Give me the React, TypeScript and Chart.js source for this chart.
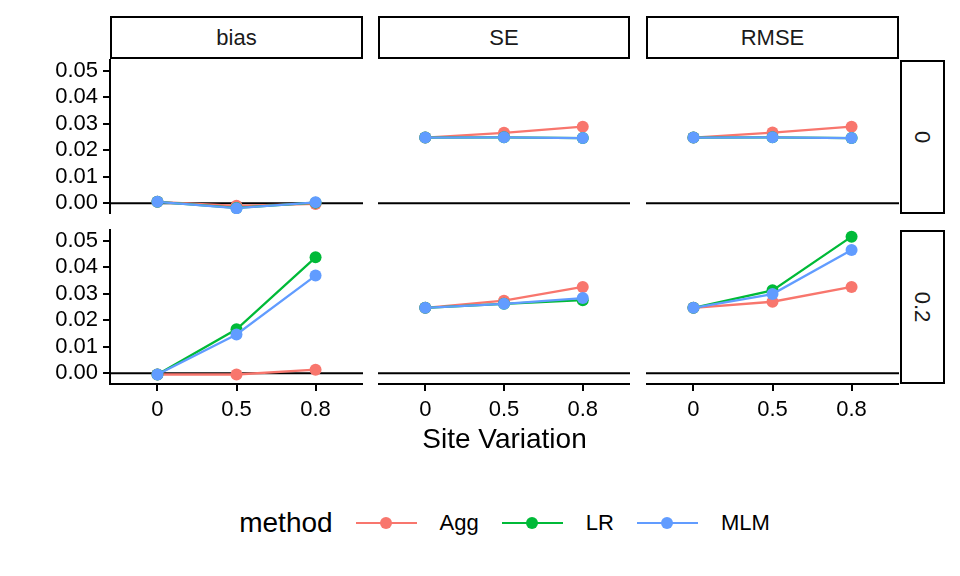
import { useEffect, useRef } from 'react'
import Chart from 'chart.js/auto'

// facet labels
const measures = ['bias', 'SE', 'RMSE']
const correlations = ['0', '0.2']
const siteVariation = ['0', '0.5', '0.8']
const methods = ['Agg', 'LR', 'MLM']
const methodColors = ['#F8766D', '#00BA38', '#619CFF']
const yTicks = [0, 0.01, 0.02, 0.03, 0.04, 0.05]

// correlation = 0
const biasAgg0 = [0.0005, -0.001, -0.0003]
const biasLR0 = [0.0005, -0.0018, 0.0002]
const biasMLM0 = [0.0005, -0.0019, 0.0003]
const seAgg0 = [0.0248, 0.0266, 0.0289]
const seLR0 = [0.0248, 0.0249, 0.0246]
const seMLM0 = [0.0248, 0.0249, 0.0246]
const rmseAgg0 = [0.0248, 0.0267, 0.0289]
const rmseLR0 = [0.0248, 0.0249, 0.0246]
const rmseMLM0 = [0.0248, 0.0249, 0.0246]

// correlation = 0.2
const biasAgg2 = [-0.0005, -0.0005, 0.0013]
const biasLR2 = [-0.0005, 0.0166, 0.0438]
const biasMLM2 = [-0.0005, 0.0146, 0.0369]
const seAgg2 = [0.0247, 0.0274, 0.0326]
const seLR2 = [0.0247, 0.0262, 0.0276]
const seMLM2 = [0.0247, 0.0262, 0.0284]
const rmseAgg2 = [0.0247, 0.027, 0.0326]
const rmseLR2 = [0.0247, 0.0313, 0.0516]
const rmseMLM2 = [0.0247, 0.0299, 0.0466]

const grid = [
  [
    [biasAgg0, biasLR0, biasMLM0],
    [seAgg0, seLR0, seMLM0],
    [rmseAgg0, rmseLR0, rmseMLM0],
  ],
  [
    [biasAgg2, biasLR2, biasMLM2],
    [seAgg2, seLR2, seMLM2],
    [rmseAgg2, rmseLR2, rmseMLM2],
  ],
]

const colLeft = [110, 378, 646]
const colRight = [363, 630, 899]
const rowTop = [59, 229]
const rowBottom = [214, 384]
const FONT = "'Liberation Sans', Arial, sans-serif"

function Panel({ row, col }: { row: number; col: number }) {
  const ref = useRef<HTMLCanvasElement>(null)
  const showY = col === 0
  const showX = row === 1

  useEffect(() => {
    if (!ref.current) return
    const series = grid[row][col]
    const datasets: any[] = methods.map((m, i) => ({
      label: m,
      data: series[i].map((v, j) => ({ x: j, y: v })),
      borderColor: methodColors[i],
      backgroundColor: methodColors[i],
      pointBackgroundColor: methodColors[i],
      pointBorderWidth: 0,
      pointRadius: 6,
      borderWidth: 2.3,
      order: 3 - i,
    }))
    datasets.push({
      label: 'zero',
      data: [{ x: -0.6, y: 0 }, { x: 2.6, y: 0 }],
      borderColor: '#000',
      borderWidth: 2,
      pointRadius: 0,
      order: 10,
    })

    const chart = new Chart(ref.current, {
      type: 'line',
      data: { datasets },
      options: {
        animation: false,
        responsive: true,
        maintainAspectRatio: false,
        events: [],
        layout: { padding: 0, autoPadding: false },
        plugins: { legend: { display: false }, tooltip: { enabled: false } },
        scales: {
          x: {
            type: 'linear',
            min: -0.6,
            max: 2.6,
            display: showX,
            afterBuildTicks: (axis: any) => {
              axis.ticks = siteVariation.map((_, j) => ({ value: j }))
            },
            afterFit: (axis: any) => {
              axis.height = showX ? 40 : 0
              axis.paddingLeft = 0
              axis.paddingRight = 0
            },
            ticks: {
              callback: (v: any) => siteVariation[v as number] ?? '',
              font: { family: FONT, size: 22 },
              color: '#000',
              padding: 6,
              maxRotation: 0,
              autoSkip: false,
            },
            grid: {
              display: true,
              drawOnChartArea: false,
              drawTicks: true,
              tickLength: 7,
              color: '#000',
              lineWidth: 2,
            },
            border: { display: true, color: '#000', width: 2 },
          },
          y: {
            type: 'linear',
            min: -0.0041,
            max: 0.0545,
            display: showY,
            afterBuildTicks: (axis: any) => {
              axis.ticks = yTicks.map((v) => ({ value: v }))
            },
            afterFit: (axis: any) => {
              axis.width = showY ? 110 : 0
              axis.paddingTop = 0
              axis.paddingBottom = 0
            },
            ticks: {
              callback: (v: any) => Number(v).toFixed(2),
              font: { family: FONT, size: 22 },
              color: '#000',
              padding: 5,
              autoSkip: false,
            },
            grid: {
              display: true,
              drawOnChartArea: false,
              drawTicks: true,
              tickLength: 7,
              color: '#000',
              lineWidth: 2,
            },
            border: { display: true, color: '#000', width: 2 },
          },
        },
      },
    })
    return () => chart.destroy()
  }, [row, col])

  const left = showY ? 0 : colLeft[col]
  const top = rowTop[row]
  const width = colRight[col] - left
  const height = rowBottom[row] - top + (showX ? 40 : 0)
  return (
    <div style={{ position: 'absolute', left, top, width, height }}>
      <canvas ref={ref} />
    </div>
  )
}

const stripStyle: React.CSSProperties = {
  position: 'absolute',
  boxSizing: 'border-box',
  border: '2px solid #000',
  background: '#fff',
  display: 'flex',
  alignItems: 'center',
  justifyContent: 'center',
  fontSize: 22,
  color: '#1a1a1a',
}

export default function App() {
  return (
    <div
      style={{
        position: 'absolute',
        left: 0,
        top: 0,
        width: 960,
        height: 576,
        background: '#fff',
        fontFamily: FONT,
        overflow: 'hidden',
      }}
    >
      {measures.map((m, c) => (
        <div
          key={m}
          style={{ ...stripStyle, left: colLeft[c], top: 16, width: colRight[c] - colLeft[c], height: 43 }}
        >
          {m}
        </div>
      ))}
      {correlations.map((r, i) => (
        <div
          key={r}
          style={{ ...stripStyle, left: 900, top: rowTop[i] + 1, width: 45, height: rowBottom[i] - rowTop[i] - 1 }}
        >
          <span style={{ transform: 'rotate(90deg)', whiteSpace: 'nowrap' }}>{r}</span>
        </div>
      ))}
      {correlations.map((_, r) =>
        measures.map((_, c) => <Panel key={`${r}-${c}`} row={r} col={c} />)
      )}
      <div
        style={{
          position: 'absolute',
          left: colLeft[0],
          width: colRight[2] - colLeft[0],
          top: 423,
          textAlign: 'center',
          fontSize: 28,
          color: '#000',
        }}
      >
        Site Variation
      </div>
      <div
        style={{
          position: 'absolute',
          left: colLeft[0],
          width: colRight[2] - colLeft[0],
          top: 506,
          height: 34,
          display: 'flex',
          alignItems: 'center',
          justifyContent: 'center',
          color: '#000',
        }}
      >
        <span style={{ fontSize: 28, marginRight: 23 }}>method</span>
        {methods.map((m, i) => (
          <div key={m} style={{ display: 'flex', alignItems: 'center', marginRight: i < 2 ? 23 : 0 }}>
            <div style={{ position: 'relative', width: 61, height: 12, marginRight: 23 }}>
              <div
                style={{
                  position: 'absolute',
                  left: 0,
                  top: 5,
                  width: 61,
                  height: 2.4,
                  background: methodColors[i],
                }}
              />
              <div
                style={{
                  position: 'absolute',
                  left: 24.5,
                  top: 0,
                  width: 12,
                  height: 12,
                  borderRadius: 6,
                  background: methodColors[i],
                }}
              />
            </div>
            <span style={{ fontSize: 22 }}>{m}</span>
          </div>
        ))}
      </div>
    </div>
  )
}
